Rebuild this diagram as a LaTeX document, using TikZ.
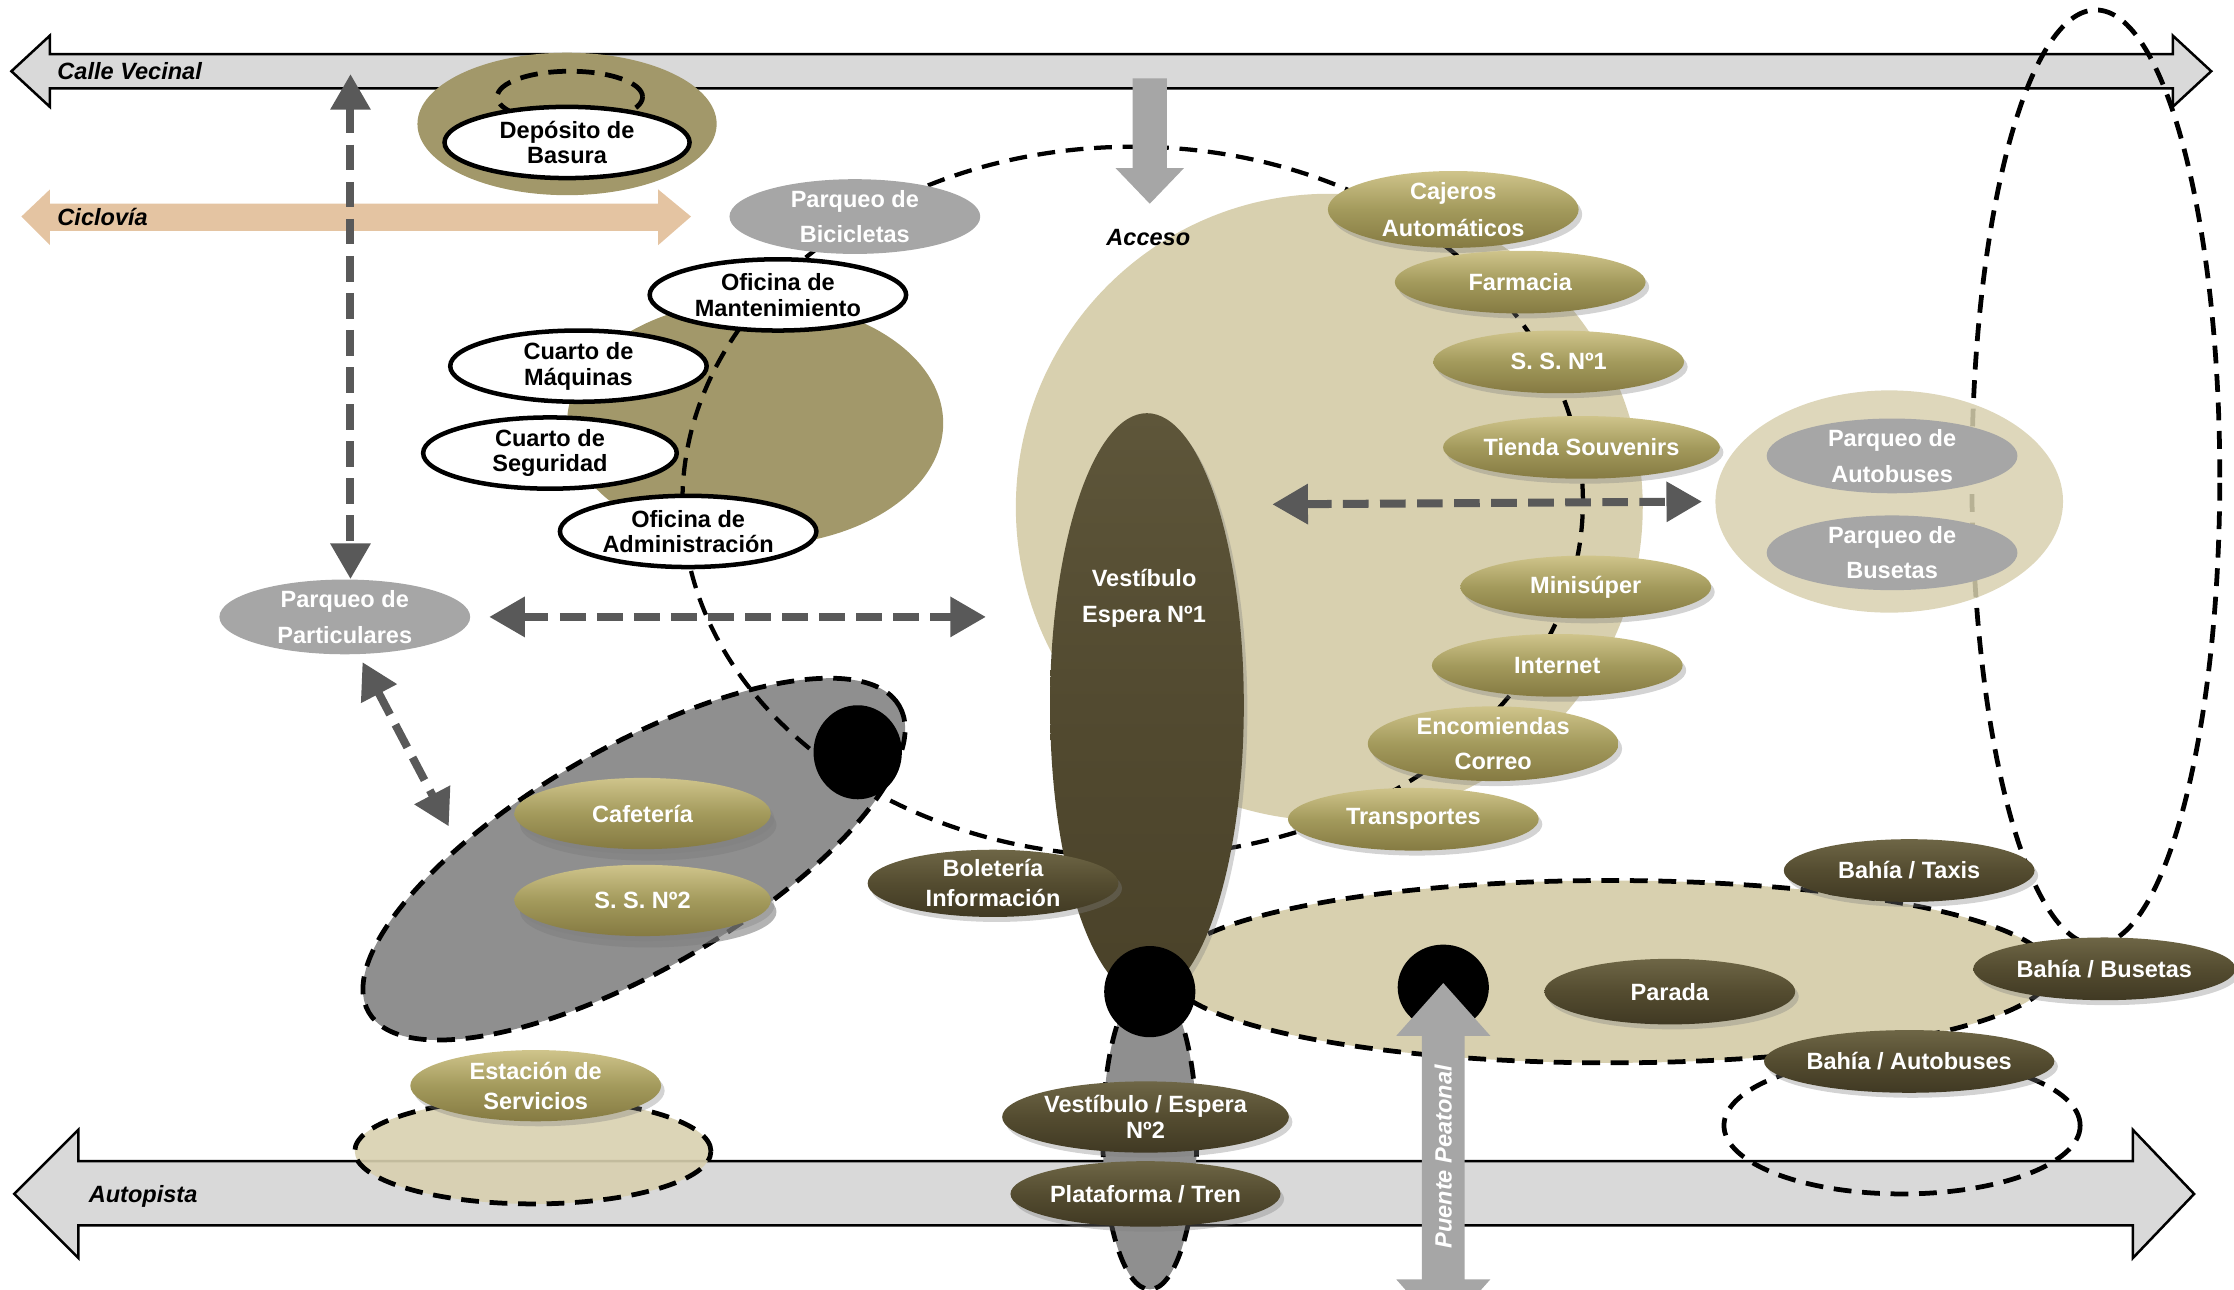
\documentclass[tikz,border=0pt]{standalone}
\usepackage{fontspec}
\setmainfont{Liberation Sans}
\usetikzlibrary{shapes.geometric,arrows.meta,shadows}

\definecolor{calleGris}{HTML}{D9D9D9}
\definecolor{cicloPiel}{HTML}{E4C4A2}
\definecolor{olivaFondo}{HTML}{A2986A}
\definecolor{beigeFondo}{HTML}{D8D0AF}
\definecolor{grisNodo}{HTML}{A6A6A6}
\definecolor{grisZona}{HTML}{8F8F8F}
\definecolor{grisFlecha}{HTML}{595959}
\definecolor{olivaT}{HTML}{CFC48B}
\definecolor{olivaM}{HTML}{A39A5C}
\definecolor{olivaB}{HTML}{857A42}
\definecolor{oscT}{HTML}{6E6646}
\definecolor{oscM}{HTML}{544C30}
\definecolor{oscB}{HTML}{403923}
\definecolor{vestT}{HTML}{5E563A}
\definecolor{vestM}{HTML}{524A30}
\definecolor{vestB}{HTML}{4A4229}

\begin{document}
\begin{tikzpicture}
[
    x=0.2mm, y=-0.2mm,
    font=\fontsize{9.4}{10.2}\selectfont\bfseries,
    every node/.style={align=center, inner sep=0pt},
    zona/.style={ellipse, inner sep=0pt},
    borde/.style={draw=black, line width=1.9pt, dash pattern=on 2.5mm off 1.5mm},
    blanco/.style={ellipse, draw=black, line width=1.8pt, fill=white, minimum width=36mm, minimum height=10mm},
    gris/.style={ellipse, fill=grisNodo, text=white, minimum width=35.2mm, minimum height=9.6mm, font=\fontsize{9.4}{14.2}\selectfont\bfseries},
    claro/.style={ellipse, top color=olivaT, bottom color=olivaB, middle color=olivaM, text=white, minimum width=35.2mm, minimum height=8.8mm, drop shadow={shadow xshift=0.5mm, shadow yshift=-0.7mm, opacity=0.35}},
    oscuro/.style={ellipse, top color=oscT, bottom color=oscB, middle color=oscM, text=white, minimum width=35.2mm, minimum height=9.2mm, drop shadow={shadow xshift=0.5mm, shadow yshift=-0.7mm, opacity=0.35}},
    hoyo/.style={ellipse, fill=black},
    flecha/.style={draw=grisFlecha, line width=3.2pt, dash pattern=on 3.6mm off 1.6mm, arrows={Triangle[length=5mm,width=5.4mm]-Triangle[length=5mm,width=5.4mm]}},
    via/.style={font=\fontsize{9.4}{10.2}\selectfont\bfseries\itshape, anchor=west}
]
\useasboundingbox (0,0) rectangle (1568,905);

% vias
\filldraw[fill=calleGris, draw=black, line width=1pt] (8,50) -- (35,25) -- (35,38) -- (1525,38) -- (1525,25) -- (1552,50) -- (1525,75) -- (1525,62) -- (35,62) -- (35,75) -- cycle;
\fill[cicloPiel] (15,152) -- (35,133) -- (35,143) -- (462,143) -- (462,133) -- (485,152) -- (462,172) -- (462,162) -- (35,162) -- (35,172) -- cycle;
\filldraw[fill=calleGris, draw=black, line width=1pt] (10,838) -- (55,793) -- (55,815) -- (1497,815) -- (1497,793) -- (1540,838) -- (1497,883) -- (1497,860) -- (55,860) -- (55,883) -- cycle;
\node[via] (calle) at (40,50) {Calle Vecinal};
\node[via] (ciclovia) at (40,152) {Ciclovía};
\node[via] (autopista) at (62,840) {Autopista};

% zonas de fondo
\node[zona, fill=beigeFondo, minimum width=88mm, minimum height=88mm] (zonaAcceso) at (933,356) {};
\node[zona, fill=olivaFondo, minimum width=52.8mm, minimum height=34.4mm] (zonaServicio) at (530,297) {};
\node[zona, fill=olivaFondo, minimum width=42mm, minimum height=20mm] (zonaBasura) at (398,87) {};
\node[zona, borde, minimum width=20.4mm, minimum height=7.2mm] (contenedor) at (400,68) {};
\node[zona, borde, minimum width=34.8mm, minimum height=131.2mm] (zonaBahias) at (1471,335) {};
\node[zona, fill=beigeFondo, fill opacity=0.85, minimum width=48.8mm, minimum height=31.2mm] (zonaBuses) at (1326,352) {};
\node[zona, borde, fill=beigeFondo, minimum width=124mm, minimum height=25.6mm] (zonaParada) at (1130,682) {};
\node[zona, borde, fill=beigeFondo, fill opacity=0.9, minimum width=50mm, minimum height=14.8mm] (zonaEstacion) at (374,808) {};
\node[zona, borde, minimum width=50mm, minimum height=19.2mm] (zonaAutobuses) at (1335,790) {};
\node[zona, borde, fill=grisZona, rotate=30, minimum width=86mm, minimum height=31.2mm] (zonaCafe) at (445,603) {};
\node[zona, borde, fill=grisZona, minimum width=13.2mm, minimum height=43.2mm] (zonaAnden) at (807,797) {};

% circulacion principal
\node[zona, borde, line width=1.7pt, minimum width=126.4mm, minimum height=99.6mm] (circuito) at (795,352) {};

% acceso
\fill[grisNodo] (795,55) -- (819,55) -- (819,118) -- (831,118) -- (807,143) -- (783,118) -- (795,118) -- cycle;
\node[font=\fontsize{9.4}{10.2}\selectfont\bfseries\itshape] (acceso) at (806,167) {Acceso};

% area administrativa
\node[blanco, minimum width=34.4mm] (deposito) at (398,100) {Depósito de\\Basura};
\node[gris] (bicicletas) at (600,152) {Parqueo de\\Bicicletas};
\node[blanco] (mantenimiento) at (546,207) {Oficina de\\Mantenimiento};
\node[blanco] (maquinas) at (406,257) {Cuarto de\\Máquinas};
\node[blanco, minimum width=35.6mm] (seguridad) at (386,318) {Cuarto de\\Seguridad};
\node[blanco] (administracion) at (483,373) {Oficina de\\Administración};
\node[gris] (particulares) at (242,433) {Parqueo de\\Particulares};

% vestibulo principal
\node[oscuro, top color=vestT, bottom color=vestB, middle color=vestM, minimum width=27.2mm, minimum height=82mm] (vestibulo) at (805,495) {};
\node[text=white, font=\fontsize{9.4}{14.2}\selectfont\bfseries] (vestibuloTxt) at (803,420) {Vestíbulo\\Espera Nº1};

% locales comerciales
\node[claro, minimum height=10mm, font=\fontsize{9.4}{14.8}\selectfont\bfseries] (cajeros) at (1020,147) {Cajeros\\Automáticos};
\node[claro] (farmacia) at (1067,198) {Farmacia};
\node[claro] (ss1) at (1094,254) {S. S. Nº1};
\node[claro] (tienda) at (1110,314) {Tienda Souvenirs};
\node[claro] (minisuper) at (1113,412) {Minisúper};
\node[claro] (internet) at (1093,467) {Internet};
\node[claro, minimum height=10mm, font=\fontsize{9.4}{14.2}\selectfont\bfseries] (encomiendas) at (1048,522) {Encomiendas\\Correo};
\node[claro] (transportes) at (992,575) {Transportes};

\node[gris] (parqAutobuses) at (1328,320) {Parqueo de\\Autobuses};
\node[gris] (parqBusetas) at (1328,388) {Parqueo de\\Busetas};

% cafeteria
\node[claro, minimum width=36mm, minimum height=10mm, drop shadow={shadow xshift=0.8mm, shadow yshift=-1.6mm, opacity=0.6}] (cafeteria) at (451,571) {Cafetería};
\node[claro, minimum width=36mm, minimum height=10mm, drop shadow={shadow xshift=0.8mm, shadow yshift=-1.6mm, opacity=0.6}] (ss2) at (451,632) {S. S. Nº2};
\node[hoyo, minimum width=12.4mm, minimum height=13.2mm] (pasoCafe) at (602,528) {};

\node[oscuro, font=\fontsize{9.4}{12}\selectfont\bfseries] (boleteria) at (697,620) {Boletería\\Información};

% anden y paradas
\node[hoyo, minimum width=12.8mm, minimum height=12.8mm] (pasoAnden) at (807,696) {};
\node[oscuro, minimum height=10mm] (vestibulo2) at (804,784) {Vestíbulo / Espera\\Nº2};
\node[oscuro] (plataforma) at (804,838) {Plataforma / Tren};
\node[oscuro] (parada) at (1172,696) {Parada};
\node[oscuro, minimum height=8.8mm] (taxis) at (1340,611) {Bahía / Taxis};
\node[oscuro, minimum width=36.8mm, minimum height=8.8mm] (busetas) at (1477,680) {Bahía / Busetas};
\node[oscuro, minimum height=8.8mm] (autobuses) at (1340,745) {Bahía / Autobuses};
\node[claro, minimum height=10mm, font=\fontsize{9.4}{12}\selectfont\bfseries] (estacion) at (376,762) {Estación de\\Servicios};

% puente peatonal
\node[hoyo, minimum width=12.8mm, minimum height=12mm] (pasoPuente) at (1013,693) {};
\fill[grisNodo] (1013,690) -- (1046,727) -- (1028,727) -- (1028,898) -- (1046,898) -- (1013,935) -- (980,898) -- (998,898) -- (998,727) -- (980,727) -- cycle;
\node[rotate=90, text=white, font=\fontsize{9.4}{10.2}\selectfont\bfseries\itshape] (puente) at (1013,812) {Puente Peatonal};

% relaciones
\coordinate (calleP) at (246,52);
\coordinate (haciaVest) at (692,433);
\coordinate (desdeAcceso) at (893,354);
\coordinate (bordeCafe) at (315,580);
\draw[flecha] (calleP) -- (calleP |- particulares.north);
\draw[flecha, shorten <=2.6mm] (particulares.east) -- (haciaVest);
\draw[flecha, shorten <=1.2mm] (particulares.290) -- (bordeCafe);
\draw[flecha, shorten >=1.8mm] (desdeAcceso) -- (zonaBuses.west);
\end{tikzpicture}
\end{document}
